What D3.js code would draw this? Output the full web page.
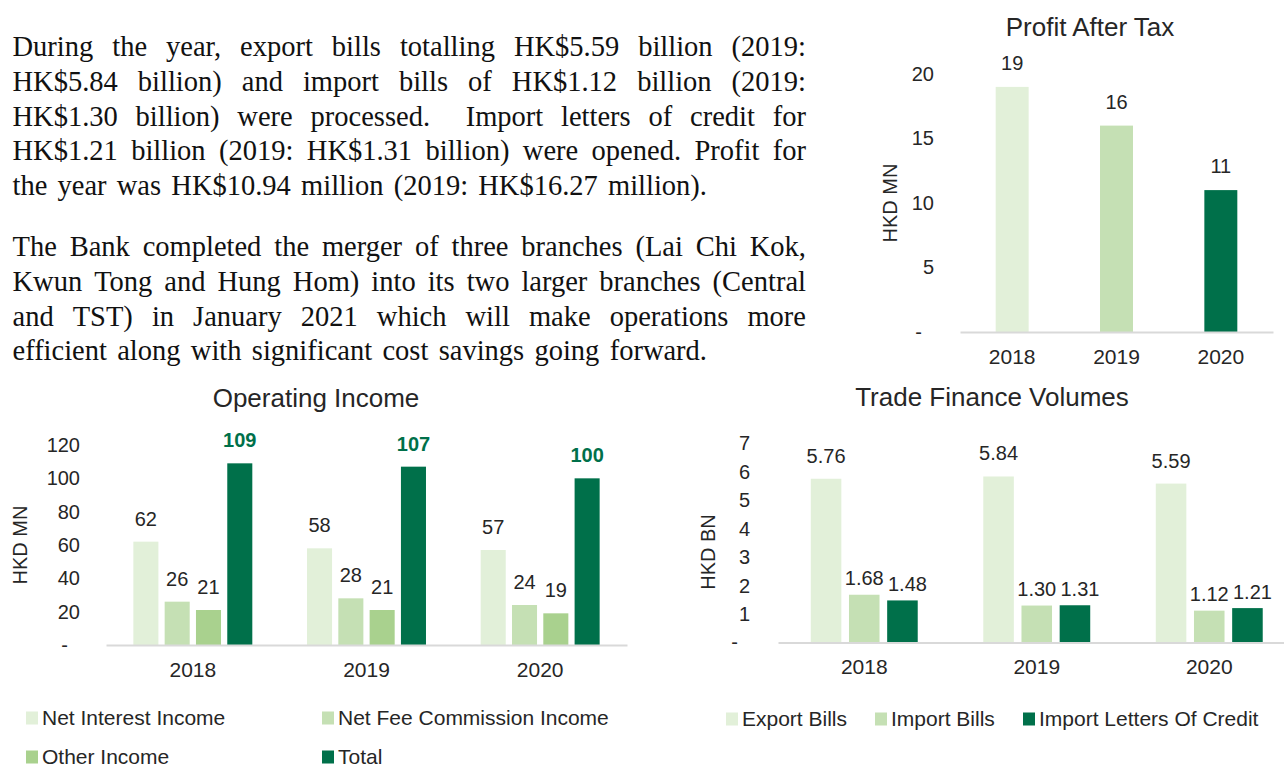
<!DOCTYPE html>
<html>
<head>
<meta charset="utf-8">
<script src="https://cdn.jsdelivr.net/npm/d3@7"></script>
<style>
  html, body { margin: 0; padding: 0; background: #ffffff; overflow: hidden; }
  svg { display: block; }
  .serif { font-family: "Liberation Serif", "Times New Roman", serif; }
  .sans { font-family: "Liberation Sans", Arial, sans-serif; }
</style>
</head>
<body>
<script>
// ---------------- DATA ----------------
const para1Lines = [
  "During the year, export bills totalling HK$5.59 billion (2019:",
  "HK$5.84 billion) and import bills of HK$1.12 billion (2019:",
  "HK$1.30 billion) were processed.  Import letters of credit for",
  "HK$1.21 billion (2019: HK$1.31 billion) were opened. Profit for",
  "the year was HK$10.94 million (2019: HK$16.27 million)."
];
const para2Lines = [
  "The Bank completed the merger of three branches (Lai Chi Kok,",
  "Kwun Tong and Hung Hom) into its two larger branches (Central",
  "and TST) in January 2021 which will make operations more",
  "efficient along with significant cost savings going forward."
];

const profitTitle = "Profit After Tax";
const profitYears = ["2018", "2019", "2020"];
const profitValues = [19, 16, 11];
const profitTicks = [0, 5, 10, 15, 20];

const opTitle = "Operating Income";
const opYears = ["2018", "2019", "2020"];
const opSeries = ["Net Interest Income", "Net Fee Commission Income", "Other Income", "Total"];
const netInterestIncome = [62, 58, 57];
const netFeeCommissionIncome = [26, 28, 24];
const otherIncome = [21, 21, 19];
const totalIncome = [109, 107, 100];
const opTicks = [0, 20, 40, 60, 80, 100, 120];

const tradeTitle = "Trade Finance Volumes";
const tradeYears = ["2018", "2019", "2020"];
const tradeSeries = ["Export Bills", "Import Bills", "Import Letters Of Credit"];
const exportBills = [5.76, 5.84, 5.59];
const importBills = [1.68, 1.30, 1.12];
const importLettersOfCredit = [1.48, 1.31, 1.21];
const tradeTicks = [0, 1, 2, 3, 4, 5, 6, 7];

// ---------------- STYLE ----------------
const C_LIGHT = "#E2F0D9", C_MED = "#C5E0B4", C_OTHER = "#A9D18E", C_DARK = "#00704A";
const TXT = "#262626";
const AXISLINE = "#D9D9D9";

const W = 1284, H = 765;
const svg = d3.select("body").append("svg").attr("width", W).attr("height", H);
svg.append("rect").attr("width", W).attr("height", H).attr("fill", "#fff");

// ---------------- PARAGRAPHS ----------------
const PARA_SIZE = 28.5;
function justifyLine(text, x, y, width, last) {
  const words = text.split(" ");
  const t = svg.append("text").attr("class", "serif")
    .attr("y", y).attr("font-size", PARA_SIZE).attr("fill", "#111");
  const spans = t.selectAll("tspan").data(words).join("tspan").text(d => d);
  const widths = spans.nodes().map(n => n.getComputedTextLength());
  const total = d3.sum(widths);
  let gap = (width - total) / Math.max(1, words.length - 1);
  if (last) gap = Math.min(gap, PARA_SIZE * 0.4);
  gap = Math.max(gap, PARA_SIZE * 0.15);
  let cx = x;
  spans.attr("x", (d, i) => { const v = cx; cx += widths[i] + gap; return v; });
}
const textLeft = 12.5, textRight = 806, lineH = 34.8;
para1Lines.forEach((l, i) => {
  const last = i === para1Lines.length - 1;
  justifyLine(l, textLeft, 56 + i * lineH, last ? 707 - textLeft : textRight - textLeft, last);
});
para2Lines.forEach((l, i) => {
  const last = i === para2Lines.length - 1;
  justifyLine(l, textLeft, 256 + i * lineH, last ? 707 - textLeft : textRight - textLeft, last);
});

// ---------------- HELPERS ----------------
function yAxis(scale, ticks, x) {
  const g = svg.append("g").attr("class", "sans").attr("transform", `translate(${x},0)`)
    .call(d3.axisLeft(scale).tickValues(ticks).tickSize(0).tickPadding(0)
      .tickFormat(d => d === 0 ? "-" : d3.format("d")(d)));
  g.select(".domain").remove();
  g.selectAll("text").attr("font-size", 20).attr("fill", TXT).attr("font-family", "Liberation Sans, Arial, sans-serif");
  g.selectAll(".tick").filter(d => d === 0).select("text").attr("dx", -12);
  return g;
}
function xAxis(scale, y) {
  const g = svg.append("g").attr("transform", `translate(0,${y})`)
    .call(d3.axisBottom(scale).tickSize(0).tickSizeOuter(0).tickPadding(17));
  g.select(".domain").attr("stroke", AXISLINE).attr("stroke-width", 2);
  g.selectAll("text").attr("font-size", 21).attr("fill", TXT).attr("font-family", "Liberation Sans, Arial, sans-serif");
  return g;
}
function title(text, x, y) {
  svg.append("text").attr("class", "sans").attr("x", x).attr("y", y).attr("dy", "0.35em")
    .attr("text-anchor", "middle").attr("font-size", 26).attr("fill", TXT).text(text);
}
function yTitle(text, x, y) {
  svg.append("text").attr("class", "sans")
    .attr("transform", `translate(${x},${y}) rotate(-90)`).attr("dy", "0.35em")
    .attr("text-anchor", "middle").attr("font-size", 20).attr("fill", TXT).text(text);
}
function legendItem(label, color, x, y) {
  svg.append("rect").attr("x", x).attr("y", y - 6.5).attr("width", 12).attr("height", 13).attr("fill", color);
  svg.append("text").attr("class", "sans").attr("x", x + 16).attr("y", y).attr("dy", "0.35em")
    .attr("font-size", 21).attr("fill", TXT).text(label);
}

// ---------------- PROFIT AFTER TAX ----------------
{
  const x = d3.scaleBand().domain(profitYears).range([960, 1273]).paddingInner(0.684).paddingOuter(0.342);
  const y = d3.scaleLinear().domain([0, 20]).range([332, 74]);
  const colors = [C_LIGHT, C_MED, C_DARK];
  title(profitTitle, 1090, 27);
  yTitle("HKD MN", 890, 203);
  yAxis(y, profitTicks, 934);
  svg.append("g").selectAll("rect").data(profitValues).join("rect")
    .attr("x", (d, i) => x(profitYears[i])).attr("width", x.bandwidth())
    .attr("y", d => y(d)).attr("height", d => y(0) - y(d)).attr("fill", (d, i) => colors[i]);
  xAxis(x, y(0));
  svg.append("g").attr("class", "sans").selectAll("text").data(profitValues).join("text")
    .attr("x", (d, i) => x(profitYears[i]) + x.bandwidth() / 2).attr("y", d => y(d) - 24)
    .attr("dy", "0.35em").attr("text-anchor", "middle").attr("font-size", 20).attr("fill", TXT)
    .text(d => d3.format(".0f")(d));
}

// ---------------- OPERATING INCOME ----------------
{
  const seriesVals = [netInterestIncome, netFeeCommissionIncome, otherIncome, totalIncome];
  const colors = [C_LIGHT, C_MED, C_OTHER, C_DARK];
  const x0 = d3.scaleBand().domain(opYears).range([106, 627]).paddingInner(0.315).paddingOuter(0.1575);
  const x1 = d3.scaleBand().domain(opSeries).range([0, x0.bandwidth()]).paddingInner(0.2).paddingOuter(0);
  const y = d3.scaleLinear().domain([0, 120]).range([645, 445]);
  title(opTitle, 316, 398);
  yTitle("HKD MN", 20, 545);
  yAxis(y, opTicks, 80);
  const data = [];
  opYears.forEach((yr, i) => opSeries.forEach((s, j) => data.push({ yr, s, j, v: seriesVals[j][i] })));
  svg.append("g").selectAll("rect").data(data).join("rect")
    .attr("x", d => x0(d.yr) + x1(d.s)).attr("width", x1.bandwidth())
    .attr("y", d => y(d.v)).attr("height", d => y(0) - y(d.v)).attr("fill", d => colors[d.j]);
  xAxis(x0, y(0));
  svg.append("g").attr("class", "sans").selectAll("text").data(data).join("text")
    .attr("x", d => x0(d.yr) + x1(d.s) + x1.bandwidth() / 2).attr("y", d => y(d.v) - 23)
    .attr("dy", "0.35em").attr("text-anchor", "middle").attr("font-size", 20)
    .attr("font-weight", d => d.j === 3 ? "bold" : "normal")
    .attr("fill", d => d.j === 3 ? C_DARK : TXT)
    .text(d => d3.format(".0f")(d.v));
  legendItem(opSeries[0], colors[0], 26, 718);
  legendItem(opSeries[1], colors[1], 322, 718);
  legendItem(opSeries[2], colors[2], 26, 757);
  legendItem(opSeries[3], colors[3], 322, 757);
}

// ---------------- TRADE FINANCE VOLUMES ----------------
{
  const seriesVals = [exportBills, importBills, importLettersOfCredit];
  const colors = [C_LIGHT, C_MED, C_DARK];
  const labelOffset = [23, 17, 16];
  const labelShift = [0, 0, 5];
  const x0 = d3.scaleBand().domain(tradeYears).range([778, 1295.5]).paddingInner(0.38).paddingOuter(0.19);
  const x1 = d3.scaleBand().domain(tradeSeries).range([0, x0.bandwidth()]).paddingInner(0.2).paddingOuter(0);
  const y = d3.scaleLinear().domain([0, 7]).range([642.5, 443.5]);
  title(tradeTitle, 992, 397);
  yTitle("HKD BN", 708, 552);
  yAxis(y, tradeTicks, 750);
  const data = [];
  tradeYears.forEach((yr, i) => tradeSeries.forEach((s, j) => data.push({ yr, s, j, v: seriesVals[j][i] })));
  svg.append("g").selectAll("rect").data(data).join("rect")
    .attr("x", d => x0(d.yr) + x1(d.s)).attr("width", x1.bandwidth())
    .attr("y", d => y(d.v)).attr("height", d => y(0) - y(d.v)).attr("fill", d => colors[d.j]);
  xAxis(x0, y(0));
  svg.append("g").attr("class", "sans").selectAll("text").data(data).join("text")
    .attr("x", d => x0(d.yr) + x1(d.s) + x1.bandwidth() / 2 + labelShift[d.j])
    .attr("y", d => y(d.v) - labelOffset[d.j])
    .attr("dy", "0.35em").attr("text-anchor", "middle").attr("font-size", 20).attr("fill", TXT)
    .text(d => d3.format(".2f")(d.v));
  legendItem(tradeSeries[0], colors[0], 726, 719);
  legendItem(tradeSeries[1], colors[1], 875, 719);
  legendItem(tradeSeries[2], colors[2], 1023, 719);
}
</script>
</body>
</html>
